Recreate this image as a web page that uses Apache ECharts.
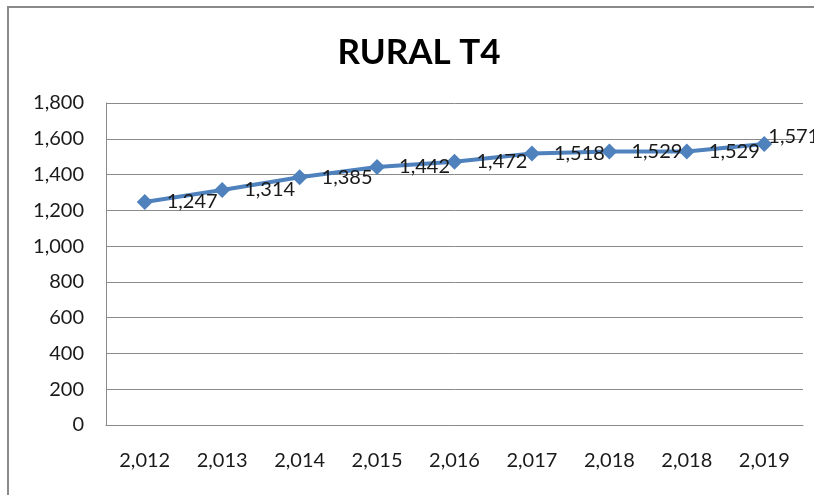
<!DOCTYPE html>
<html>
<head>
<meta charset="utf-8">
<script src="https://cdn.jsdelivr.net/npm/echarts@6/dist/echarts.min.js"></script>
<style>
    html, body { margin: 0; padding: 0; background: #fff; }
    #chart { width: 814px; height: 495px; }
</style>
</head>
<body>
<div id="chart"></div>
<script>
// 数据
var years = ['2,012', '2,013', '2,014', '2,015', '2,016', '2,017', '2,018', '2,018', '2,019'];
var ruralT4 = [1247, 1314, 1385, 1442, 1472, 1518, 1529, 1529, 1571];
var yMin = 0, yMax = 1800, yStep = 200;

function fmt(v) {
    return String(v).replace(/\B(?=(\d{3})+(?!\d))/g, ',');
}

var chart = echarts.init(document.getElementById('chart'));
chart.setOption({
    animation: false,
    textStyle: { fontFamily: 'Lato' },
    title: {
        text: 'RURAL T4',
        left: 414,
        textAlign: 'center',
        top: 30,
        textStyle: { fontFamily: 'Lato', fontWeight: 'bold', fontSize: 35, color: '#000' }
    },
    graphic: [{
        type: 'rect',
        shape: { x: 8, y: 7, width: 900, height: 600 },
        style: { fill: 'none', stroke: '#8a8a8a', lineWidth: 2 },
        silent: true
    }],
    grid: { left: 106, right: 11, top: 103, bottom: 70 },
    xAxis: {
        type: 'category',
        data: years,
        boundaryGap: true,
        axisLine: { lineStyle: { color: '#8a8a8a', width: 1 } },
        axisTick: { show: false },
        axisLabel: { margin: 26, fontSize: 20, color: '#1a1a1a' }
    },
    yAxis: {
        type: 'value',
        min: yMin,
        max: yMax,
        interval: yStep,
        axisLine: { show: true, lineStyle: { color: '#8a8a8a', width: 1 } },
        axisTick: { show: false },
        splitLine: { lineStyle: { color: '#8a8a8a', width: 1 } },
        axisLabel: { margin: 22, fontSize: 20, color: '#1a1a1a', formatter: fmt }
    },
    series: [{
        name: 'RURAL T4',
        type: 'line',
        data: ruralT4,
        symbol: 'diamond',
        symbolSize: 16,
        lineStyle: { color: '#4f81bd', width: 4 },
        itemStyle: { color: '#4f81bd' },
        label: {
            show: true,
            position: 'right',
            distance: 14,
            offset: [0, 8],
            fontSize: 20,
            color: '#1a1a1a',
            formatter: function (p) { return fmt(p.value); }
        },
        // 最后一个标签贴近数据点（原图被挤到点旁）
        labelLayout: function (p) {
            if (p.dataIndex === ruralT4.length - 1) {
                return { dx: -18, dy: -7 };
            }
        }
    }]
});
</script>
</body>
</html>
